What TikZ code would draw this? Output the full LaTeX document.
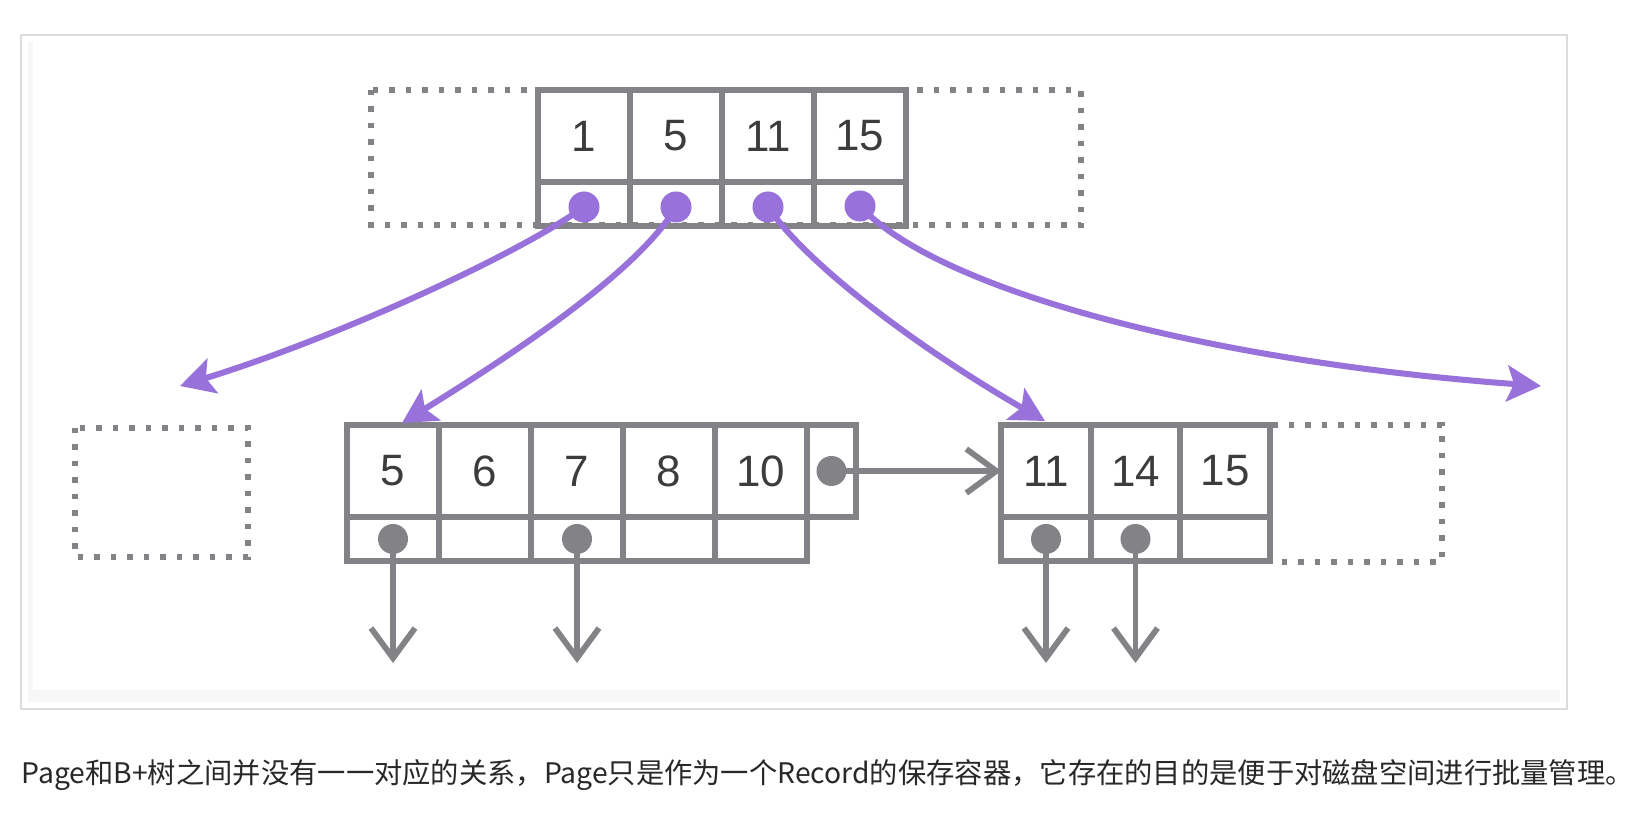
\documentclass[tikz,border=0pt]{standalone}
\usepackage{fontspec}
\setmainfont{Liberation Sans}
\newfontfamily\cjkfont{Noto Sans CJK SC}
\usepackage{tikz}
\usetikzlibrary{positioning,arrows.meta}

\definecolor{linegray}{RGB}{130,130,135}
\definecolor{numgray}{RGB}{60,60,60}
\definecolor{ptrpurple}{RGB}{152,113,218}
\definecolor{framegray}{RGB}{220,220,220}
\definecolor{edgegray}{RGB}{247,247,247}
\definecolor{captgray}{RGB}{40,40,40}

\begin{document}
\begin{tikzpicture}[x=0.1mm,y=-0.1mm,
    key/.style={draw=linegray, line width=0.58mm, minimum width=9.2mm, minimum height=9.2mm,
                inner sep=0pt, outer sep=0pt, text=numgray, font=\fontsize{12.5pt}{14pt}\selectfont},
    ptr/.style={key, minimum height=4.4mm},
    pdot/.style={circle, fill=ptrpurple, minimum size=3.1mm, inner sep=0pt},
    gdot/.style={circle, fill=linegray, minimum size=3mm, inner sep=0pt},
    spare/.style={draw=linegray, line width=0.6mm, dash pattern=on 0.55mm off 1.1mm},
    parrow/.style={draw=ptrpurple, line width=0.6mm, -{Stealth[length=3.4mm,width=3.6mm,inset=0.7mm]}},
    garrow/.style={draw=linegray, line width=0.58mm, -{Straight Barb[length=3mm,width=4.4mm]}}]
\useasboundingbox (0,0) rectangle (1638,814);

\fill[edgegray] (28,42) rectangle (1560,702);
\fill[white] (33,42) rectangle (1560,690);
\draw[framegray, line width=0.2mm] (21,35) rectangle (1567,709);

% pages that are not drawn
\draw[spare] (371,90) rectangle (1081,225);
\draw[spare] (75,428) rectangle (248,557);
\draw[spare] (1272,425) -- (1442,425) -- (1442,562) -- (1272,562);

% root page
\node[key] (k1) at (584,136) {1};
\node[key, right=0pt of k1] (k2) {5};
\node[key, right=0pt of k2] (k3) {11};
\node[key, right=0pt of k3] (k4) {15};
\node[ptr, below=0pt of k1] (q1) {};
\node[ptr, below=0pt of k2] (q2) {};
\node[ptr, below=0pt of k3] (q3) {};
\node[ptr, below=0pt of k4] (q4) {};

% left leaf page
\node[key] (a1) at (393,471) {5};
\node[key, right=0pt of a1] (a2) {6};
\node[key, right=0pt of a2] (a3) {7};
\node[key, right=0pt of a3] (a4) {8};
\node[key, right=0pt of a4] (a5) {10};
\node[key, minimum width=4.9mm, right=0pt of a5] (a6) {};
\node[ptr, below=0pt of a1] (b1) {};
\node[ptr, below=0pt of a2] (b2) {};
\node[ptr, below=0pt of a3] (b3) {};
\node[ptr, below=0pt of a4] (b4) {};
\node[ptr, below=0pt of a5] (b5) {};

% right leaf page
\node[key, minimum width=8.95mm] (c1) at (1046,471) {11};
\node[key, minimum width=8.95mm, right=0pt of c1] (c2) {14};
\node[key, minimum width=8.95mm, right=0pt of c2] (c3) {15};
\node[ptr, minimum width=8.95mm, below=0pt of c1] (e1) {};
\node[ptr, minimum width=8.95mm, below=0pt of c2] (e2) {};
\node[ptr, minimum width=8.95mm, below=0pt of c3] (e3) {};

% pointers
\node[pdot, yshift=-0.3mm] (d1) at (q1) {};
\node[pdot, yshift=-0.3mm] (d2) at (q2) {};
\node[pdot, yshift=-0.3mm] (d3) at (q3) {};
\node[pdot, yshift=-0.2mm] (d4) at (q4) {};
\node[gdot] (g1) at (b1) {};
\node[gdot] (g2) at (b3) {};
\node[gdot] (g3) at (e1) {};
\node[gdot] (g4) at (e2) {};
\node[gdot] (nxt) at (a6) {};

\coordinate (to1) at (180,386);
\coordinate (to2) at (402,423);
\coordinate (to3) at (1045,421);
\coordinate (to4) at (1541,386);
\coordinate (dn1) at (g1 |- 0,663);
\coordinate (dn2) at (g2 |- 0,663);
\coordinate (dn3) at (g3 |- 0,663);
\coordinate (dn4) at (g4 |- 0,663);

\draw[parrow] (d1.center) .. controls +(-70,50) and +(150,-46) .. (to1);
\draw[parrow] (d2.center) .. controls +(-36,62) and +(118,-73) .. (to2);
\draw[parrow] (d3.center) .. controls +(42,62) and +(-115,-66) .. (to3);
\draw[parrow] (d4.center) .. controls +(75,82) and +(-340,-25) .. (to4);

\draw[garrow] (nxt.center) -- (c1.west);
\draw[garrow] (g1.center) -- (dn1);
\draw[garrow] (g2.center) -- (dn2);
\draw[garrow] (g3.center) -- (dn3);
\draw[garrow] (g4.center) -- (dn4);

\node[anchor=west, inner sep=0pt, text=captgray, font=\cjkfont\fontsize{8.05pt}{9pt}\selectfont] (caption) at (21,775)
  {Page和B+树之间并没有一一对应的关系，Page只是作为一个Record的保存容器，它存在的目的是便于对磁盘空间进行批量管理。};

\end{tikzpicture}
\end{document}
